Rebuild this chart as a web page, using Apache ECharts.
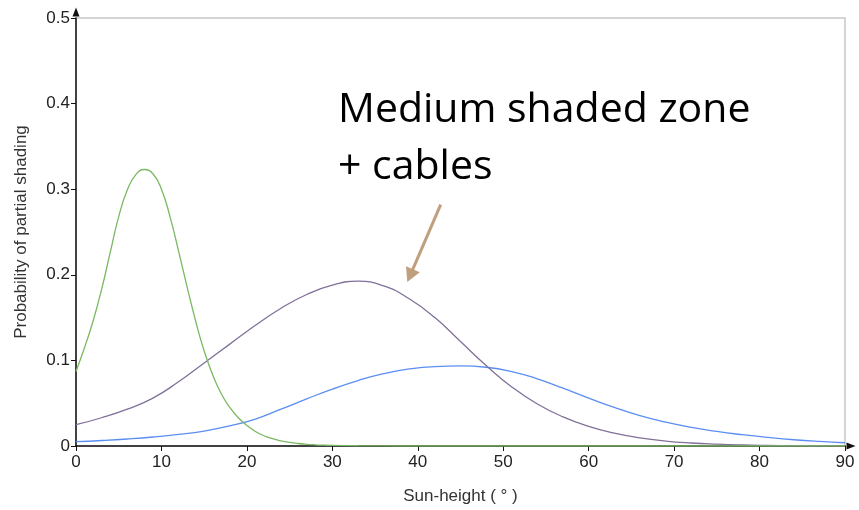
<!DOCTYPE html>
<html>
<head>
<meta charset="utf-8">
<script src="https://cdn.jsdelivr.net/npm/echarts@6/dist/echarts.min.js"></script>
<style>
  html, body { margin: 0; padding: 0; background: #fff; }
  #chart { width: 859px; height: 510px; }
</style>
</head>
<body>
<div id="chart"></div>
<script>
// Sun height (degrees) and probability of partial shading for three zones
const xTicks = [0, 10, 20, 30, 40, 50, 60, 70, 80, 90];
const yTicks = [0, 0.1, 0.2, 0.3, 0.4, 0.5];

const greenAngles = [0, 1, 2, 3, 4, 5, 6, 7, 8, 9, 10, 11, 12, 13, 14, 15, 16, 17, 18, 19, 20,
  21, 22, 23, 24, 25, 26, 27, 28, 29, 30, 33, 36, 40, 45, 50, 55, 60, 65, 70, 75, 80, 85, 90];
const greenValues = [0.087, 0.115, 0.146, 0.183, 0.226, 0.268, 0.299, 0.317, 0.323, 0.318, 0.300,
  0.268, 0.228, 0.186, 0.146, 0.111, 0.083, 0.061, 0.045, 0.033, 0.024,
  0.017, 0.012, 0.0085, 0.006, 0.0042, 0.0029, 0.002, 0.0014, 0.001, 0.0007,
  0.0003, 0.0001, 0, 0, 0, 0, 0, 0, 0, 0, 0, 0, 0];

const wideAngles = [0, 3, 6, 9, 12, 15, 18, 21, 24, 27, 30, 33, 36, 39, 42, 45,
  48, 51, 54, 57, 60, 63, 66, 69, 72, 75, 78, 81, 84, 87, 90];
const purpleValues = [0.025, 0.033, 0.043, 0.056, 0.075, 0.097, 0.119, 0.141, 0.161, 0.177, 0.188,
  0.1925, 0.187, 0.172, 0.150, 0.122, 0.094, 0.069, 0.049, 0.034, 0.023,
  0.015, 0.0095, 0.0058, 0.0035, 0.0021, 0.0012, 0.0007, 0.0004, 0.0002, 0.0001];
const blueValues = [0.005, 0.0064, 0.0082, 0.0105, 0.0135, 0.0175, 0.0235, 0.0315, 0.043, 0.055, 0.0665,
  0.0765, 0.0845, 0.090, 0.0928, 0.0935, 0.092, 0.087, 0.0785, 0.0675, 0.056,
  0.045, 0.0355, 0.028, 0.0218, 0.017, 0.0132, 0.010, 0.0073, 0.0053, 0.0038];

// Annotation arrow: start and end in data coordinates
const arrowFrom = [42.68, 0.282];
const arrowTo = [39.1, 0.199];

const pairs = (xs, ys) => xs.map((x, i) => [x, ys[i]]);

const tickFont = { fontFamily: 'Liberation Sans', fontSize: 17, color: '#222' };
const axisArrow = { symbol: ['none', 'triangle'], symbolSize: [7, 9], symbolOffset: [0, 6] };

const chart = echarts.init(document.getElementById('chart'), null, { renderer: 'canvas' });

chart.setOption({
  animation: false,
  backgroundColor: '#fff',
  grid: {
    left: 76, right: 14, top: 18, bottom: 62,
    show: true, borderColor: '#c8c8c8', borderWidth: 1.5, backgroundColor: 'transparent'
  },
  xAxis: {
    type: 'value',
    min: xTicks[0], max: xTicks[xTicks.length - 1], interval: 10,
    name: 'Sun-height ( ° )',
    nameLocation: 'middle', nameGap: 42,
    nameTextStyle: { fontFamily: 'Liberation Sans', fontSize: 17, color: '#333' },
    axisLine: Object.assign({ show: true, lineStyle: { color: '#111', width: 1.5 } }, axisArrow),
    axisTick: { show: true, length: 5, lineStyle: { color: '#111' } },
    axisLabel: Object.assign({ margin: 8 }, tickFont),
    splitLine: { show: false }
  },
  yAxis: {
    type: 'value',
    min: yTicks[0], max: yTicks[yTicks.length - 1], interval: 0.1,
    name: 'Probability of partial shading',
    nameLocation: 'middle', nameGap: 46,
    nameTextStyle: { fontFamily: 'Liberation Sans', fontSize: 17, color: '#333' },
    axisLine: Object.assign({ show: true, lineStyle: { color: '#111', width: 1.5 } }, axisArrow),
    axisTick: { show: true, length: 5, lineStyle: { color: '#111' } },
    axisLabel: Object.assign({ margin: 6 }, tickFont),
    splitLine: { show: false }
  },
  series: [
    {
      name: 'Low', type: 'line', smooth: 0.5, showSymbol: false,
      data: pairs(wideAngles, blueValues),
      lineStyle: { color: '#5b8ef2', width: 1.3 }
    },
    {
      name: 'Medium', type: 'line', smooth: 0.5, showSymbol: false,
      data: pairs(wideAngles, purpleValues),
      lineStyle: { color: '#80709a', width: 1.3 },
      markLine: {
        silent: true, animation: false,
        symbol: ['none', 'triangle'], symbolSize: [15, 14],
        label: { show: false },
        lineStyle: { color: '#bf9f7d', width: 3, type: 'solid' },
        data: [[{ coord: arrowFrom }, { coord: arrowTo }]]
      }
    },
    {
      name: 'High', type: 'line', smooth: 0.5, showSymbol: false,
      data: pairs(greenAngles, greenValues),
      lineStyle: { color: '#7bb862', width: 1.3 }
    }
  ],
  graphic: [
    {
      type: 'text', left: 338, top: 82,
      style: {
        text: 'Medium shaded zone\n+ cables',
        font: '41px "Open Sans"', fill: '#000', lineHeight: 57
      }
    }
  ]
});
</script>
</body>
</html>
